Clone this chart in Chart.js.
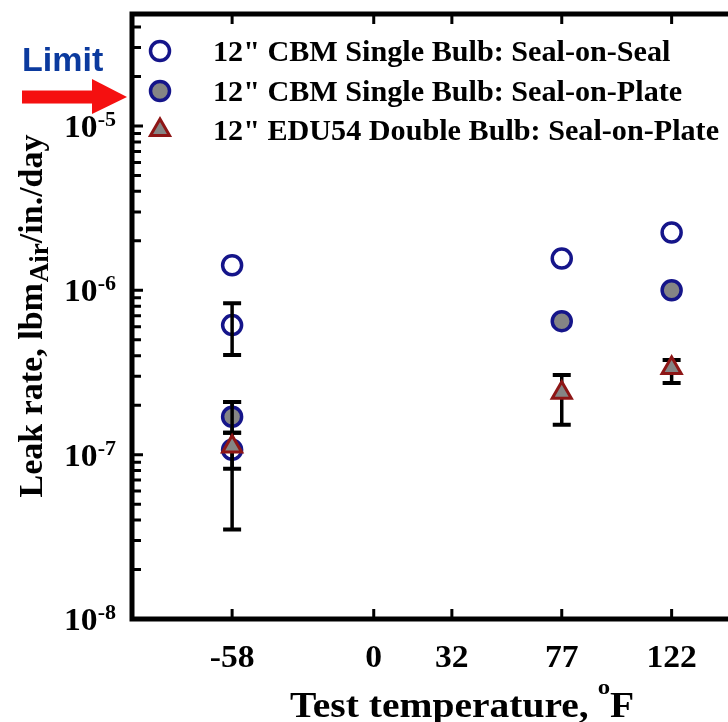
<!DOCTYPE html>
<html><head><meta charset="utf-8">
<script src="https://cdn.jsdelivr.net/npm/chart.js@4.4.1/dist/chart.umd.min.js"></script>
<style>
html,body{margin:0;padding:0;background:#fff;overflow:hidden;width:728px;height:722px;}
#wrap{position:relative;width:728px;height:722px;overflow:hidden;}
canvas{display:block;}
</style></head><body>
<div id="wrap"><canvas id="c" width="760" height="722"></canvas></div>
<script>
// ---- data ----
const temperatureTicks = [-58, 0, 32, 77, 122];
const seriesNames = ['12" CBM Single Bulb: Seal-on-Seal', '12" CBM Single Bulb: Seal-on-Plate', '12" EDU54 Double Bulb: Seal-on-Plate'];
const sealOnSealTemp  = [-58, -58, -58, 77, 122];
const sealOnSealRate  = [1.42e-6, 6.14e-7, 1.07e-7, 1.56e-6, 2.25e-6];
const sealOnSealUpper = [null, 8.34e-7, 2.09e-7, null, null];
const sealOnSealLower = [null, 4.04e-7, 3.5e-8, null, null];
const sealOnPlateTemp  = [-58, 77, 122];
const sealOnPlateRate  = [1.70e-7, 6.49e-7, 1.0e-6];
const sealOnPlateUpper = [2.09e-7, null, null];
const sealOnPlateLower = [1.36e-7, null, null];
const edu54Temp  = [-58, 77, 122];
const edu54Rate  = [1.12e-7, 2.38e-7, 3.37e-7];
const edu54Upper = [1.36e-7, 3.05e-7, 3.77e-7];
const edu54Lower = [8.2e-8, 1.52e-7, 2.73e-7];
const yDecadeExponents = [-8, -7, -6, -5];
const limitValue = 1.5e-5;
const limitLabel = 'Limit';
const xTitle = 'Test temperature, ';
const xTitleSup = 'o';
const xTitleEnd = 'F';
const yTitleParts = ['Leak rate, lbm', 'Air', '/in./day'];

const errorSets = [
  [sealOnSealTemp, sealOnSealUpper, sealOnSealLower],
  [sealOnPlateTemp, sealOnPlateUpper, sealOnPlateLower],
  [edu54Temp, edu54Upper, edu54Lower]
];
const toPts = (xs, ys) => xs.map((x, i) => ({x: x, y: ys[i]}));

const NAVY = '#15158a', GRAY = '#858585', DRED = '#8e1616';
const serif = '"Liberation Serif", "Times New Roman", serif';
const sans = '"Liberation Sans", Arial, sans-serif';

// draw text stretched horizontally by sx, left-aligned at x
function sText(ctx, text, x, y, sx) {
  ctx.save();
  ctx.translate(x, y);
  ctx.scale(sx, 1);
  ctx.textAlign = 'left';
  ctx.fillText(text, 0, 0);
  ctx.restore();
}
function wText(ctx, text, sx) { return ctx.measureText(text).width * sx; }

function drawBars(chart, idx) {
  const ctx = chart.ctx, xs = chart.scales.x, ys = chart.scales.y;
  const [t, up, lo] = errorSets[idx];
  ctx.save();
  ctx.strokeStyle = '#000';
  for (let i = 0; i < t.length; i++) {
    if (up[i] == null) continue;
    const px = xs.getPixelForValue(t[i]);
    const pu = ys.getPixelForValue(up[i]);
    const pl = ys.getPixelForValue(lo[i]);
    ctx.lineWidth = 3.5;
    ctx.beginPath(); ctx.moveTo(px, pu); ctx.lineTo(px, pl); ctx.stroke();
    ctx.lineWidth = 4;
    ctx.beginPath();
    ctx.moveTo(px - 9, pu); ctx.lineTo(px + 9, pu);
    ctx.moveTo(px - 9, pl); ctx.lineTo(px + 9, pl);
    ctx.stroke();
  }
  ctx.restore();
}

function marker(ctx, kind, x, y) {
  ctx.save();
  if (kind === 'tri') {
    const r = 11;
    ctx.beginPath();
    for (let k = 0; k < 3; k++) {
      const a = k * 2 * Math.PI / 3;
      const px = x + Math.sin(a) * r, py = y - Math.cos(a) * r;
      if (k === 0) ctx.moveTo(px, py); else ctx.lineTo(px, py);
    }
    ctx.closePath();
    ctx.fillStyle = GRAY; ctx.fill();
    ctx.lineWidth = 3; ctx.strokeStyle = DRED; ctx.stroke();
  } else {
    ctx.beginPath(); ctx.arc(x, y, 9.5, 0, Math.PI * 2);
    ctx.fillStyle = kind === 'open' ? '#fff' : GRAY; ctx.fill();
    ctx.lineWidth = 3.5; ctx.strokeStyle = NAVY; ctx.stroke();
  }
  ctx.restore();
}

const decor = {
  id: 'decor',
  beforeDatasetDraw(chart, args) { if (args.index === 2) drawBars(chart, 2); },
  afterDatasetDraw(chart, args) { if (args.index !== 2) drawBars(chart, args.index); },
  afterDraw(chart) {
    const ctx = chart.ctx, a = chart.chartArea, xs = chart.scales.x, ys = chart.scales.y;
    ctx.save();
    // frame
    ctx.strokeStyle = '#000'; ctx.lineWidth = 5; ctx.lineJoin = 'miter';
    ctx.strokeRect(a.left, a.top, a.right - a.left, a.bottom - a.top);
    // y ticks (log, minor) on left axis; x ticks on bottom and top
    ctx.lineWidth = 3;
    ctx.beginPath();
    for (const e of yDecadeExponents) {
      for (let m = 1; m <= 9; m++) {
        const v = m * Math.pow(10, e);
        if (v < ys.min * 0.999 || v > ys.max) continue;
        const py = ys.getPixelForValue(v);
        const len = m === 1 ? 11 : 9;
        ctx.moveTo(a.left, py); ctx.lineTo(a.left + len, py);
      }
    }
    for (const t of temperatureTicks) {
      const px = xs.getPixelForValue(t);
      ctx.moveTo(px, a.bottom); ctx.lineTo(px, a.bottom - 10);
      ctx.moveTo(px, a.top); ctx.lineTo(px, a.top + 10);
    }
    ctx.stroke();
    ctx.fillStyle = '#000';
    ctx.textBaseline = 'alphabetic';
    // y tick labels 10^n
    const TSX = 1.05;
    for (const e of yDecadeExponents) {
      const py = ys.getPixelForValue(Math.pow(10, e));
      const sup = String(e);
      ctx.font = 'bold 21px ' + serif;
      const sw = wText(ctx, sup, TSX);
      ctx.font = 'bold 32px ' + serif;
      const mw = wText(ctx, '10', TSX);
      const xr = 116;
      sText(ctx, '10', xr - sw - mw, py + 11, TSX);
      ctx.font = 'bold 21px ' + serif;
      sText(ctx, sup, xr - sw, py, TSX);
    }
    // x tick labels
    ctx.font = 'bold 32px ' + serif;
    for (const t of temperatureTicks) {
      const s = String(t);
      const w = wText(ctx, s, TSX);
      sText(ctx, s, xs.getPixelForValue(t) - w / 2, 667, TSX);
    }
    // x title
    const XSX = 1.13;
    ctx.font = 'bold 35px ' + serif;
    const w1 = wText(ctx, xTitle, XSX);
    const w3 = wText(ctx, xTitleEnd, XSX);
    ctx.font = 'bold 22px ' + serif;
    const w2 = wText(ctx, xTitleSup, XSX);
    const x0 = 290;
    ctx.font = 'bold 35px ' + serif;
    sText(ctx, xTitle, x0, 717, XSX);
    sText(ctx, xTitleEnd, x0 + w1 + w2 - 1, 717, XSX);
    ctx.font = 'bold 22px ' + serif;
    sText(ctx, xTitleSup, x0 + w1 - 1, 694, XSX);
    // y title rotated
    ctx.save();
    ctx.translate(42, (a.top + a.bottom) / 2);
    ctx.rotate(-Math.PI / 2);
    ctx.font = 'bold 34px ' + serif;
    const p1 = ctx.measureText(yTitleParts[0]).width;
    const p3 = ctx.measureText(yTitleParts[2]).width;
    ctx.font = 'bold 27px ' + serif;
    const p2 = ctx.measureText(yTitleParts[1]).width;
    const s0 = -(p1 + p2 + p3) / 2;
    ctx.textAlign = 'left';
    ctx.font = 'bold 34px ' + serif;
    ctx.fillText(yTitleParts[0], s0, 0);
    ctx.font = 'bold 27px ' + serif;
    ctx.fillText(yTitleParts[1], s0 + p1 + 1, 6);
    ctx.font = 'bold 34px ' + serif;
    ctx.fillText(yTitleParts[2], s0 + p1 + p2 + 1, 0);
    ctx.restore();
    // legend
    const rowsM = [51, 91, 130], rowsT = [61, 101, 140], kinds = ['open', 'fill', 'tri'];
    ctx.font = 'bold 29px ' + serif;
    for (let i = 0; i < 3; i++) {
      marker(ctx, kinds[i], 160, rowsM[i]);
      ctx.fillStyle = '#000';
      sText(ctx, seriesNames[i], 213, rowsT[i], 1.04);
    }
    // limit arrow
    const ay = ys.getPixelForValue(limitValue);
    ctx.fillStyle = '#f51010';
    ctx.fillRect(22, ay - 6.5, 72, 13);
    ctx.beginPath();
    ctx.moveTo(92, ay - 18); ctx.lineTo(127, ay); ctx.lineTo(92, ay + 17); ctx.closePath();
    ctx.fill();
    ctx.fillStyle = '#0b3a9e';
    ctx.font = 'bold 34px ' + sans;
    ctx.textAlign = 'left';
    ctx.fillText(limitLabel, 22, ay - 26);
    ctx.restore();
  }
};

new Chart(document.getElementById('c'), {
  type: 'scatter',
  data: {
    datasets: [
      { label: seriesNames[0], data: toPts(sealOnSealTemp, sealOnSealRate), order: 2,
        pointStyle: 'circle', pointRadius: 9.5, borderWidth: 3.5, borderColor: NAVY, backgroundColor: '#fff' },
      { label: seriesNames[1], data: toPts(sealOnPlateTemp, sealOnPlateRate), order: 1,
        pointStyle: 'circle', pointRadius: 9.5, borderWidth: 3.5, borderColor: NAVY, backgroundColor: GRAY },
      { label: seriesNames[2], data: toPts(edu54Temp, edu54Rate), order: 0,
        pointStyle: 'triangle', pointRadius: 11, borderWidth: 3, borderColor: DRED, backgroundColor: GRAY }
    ]
  },
  options: {
    responsive: false, animation: false,
    layout: { padding: { left: 132, right: 20, top: 13, bottom: 103 } },
    plugins: { legend: { display: false }, tooltip: { enabled: false } },
    scales: {
      x: { type: 'linear', min: -99, max: 150, display: false },
      y: { type: 'logarithmic', min: 1e-8, max: 4.8e-5, display: false }
    }
  },
  plugins: [decor]
});
</script>
</body></html>
